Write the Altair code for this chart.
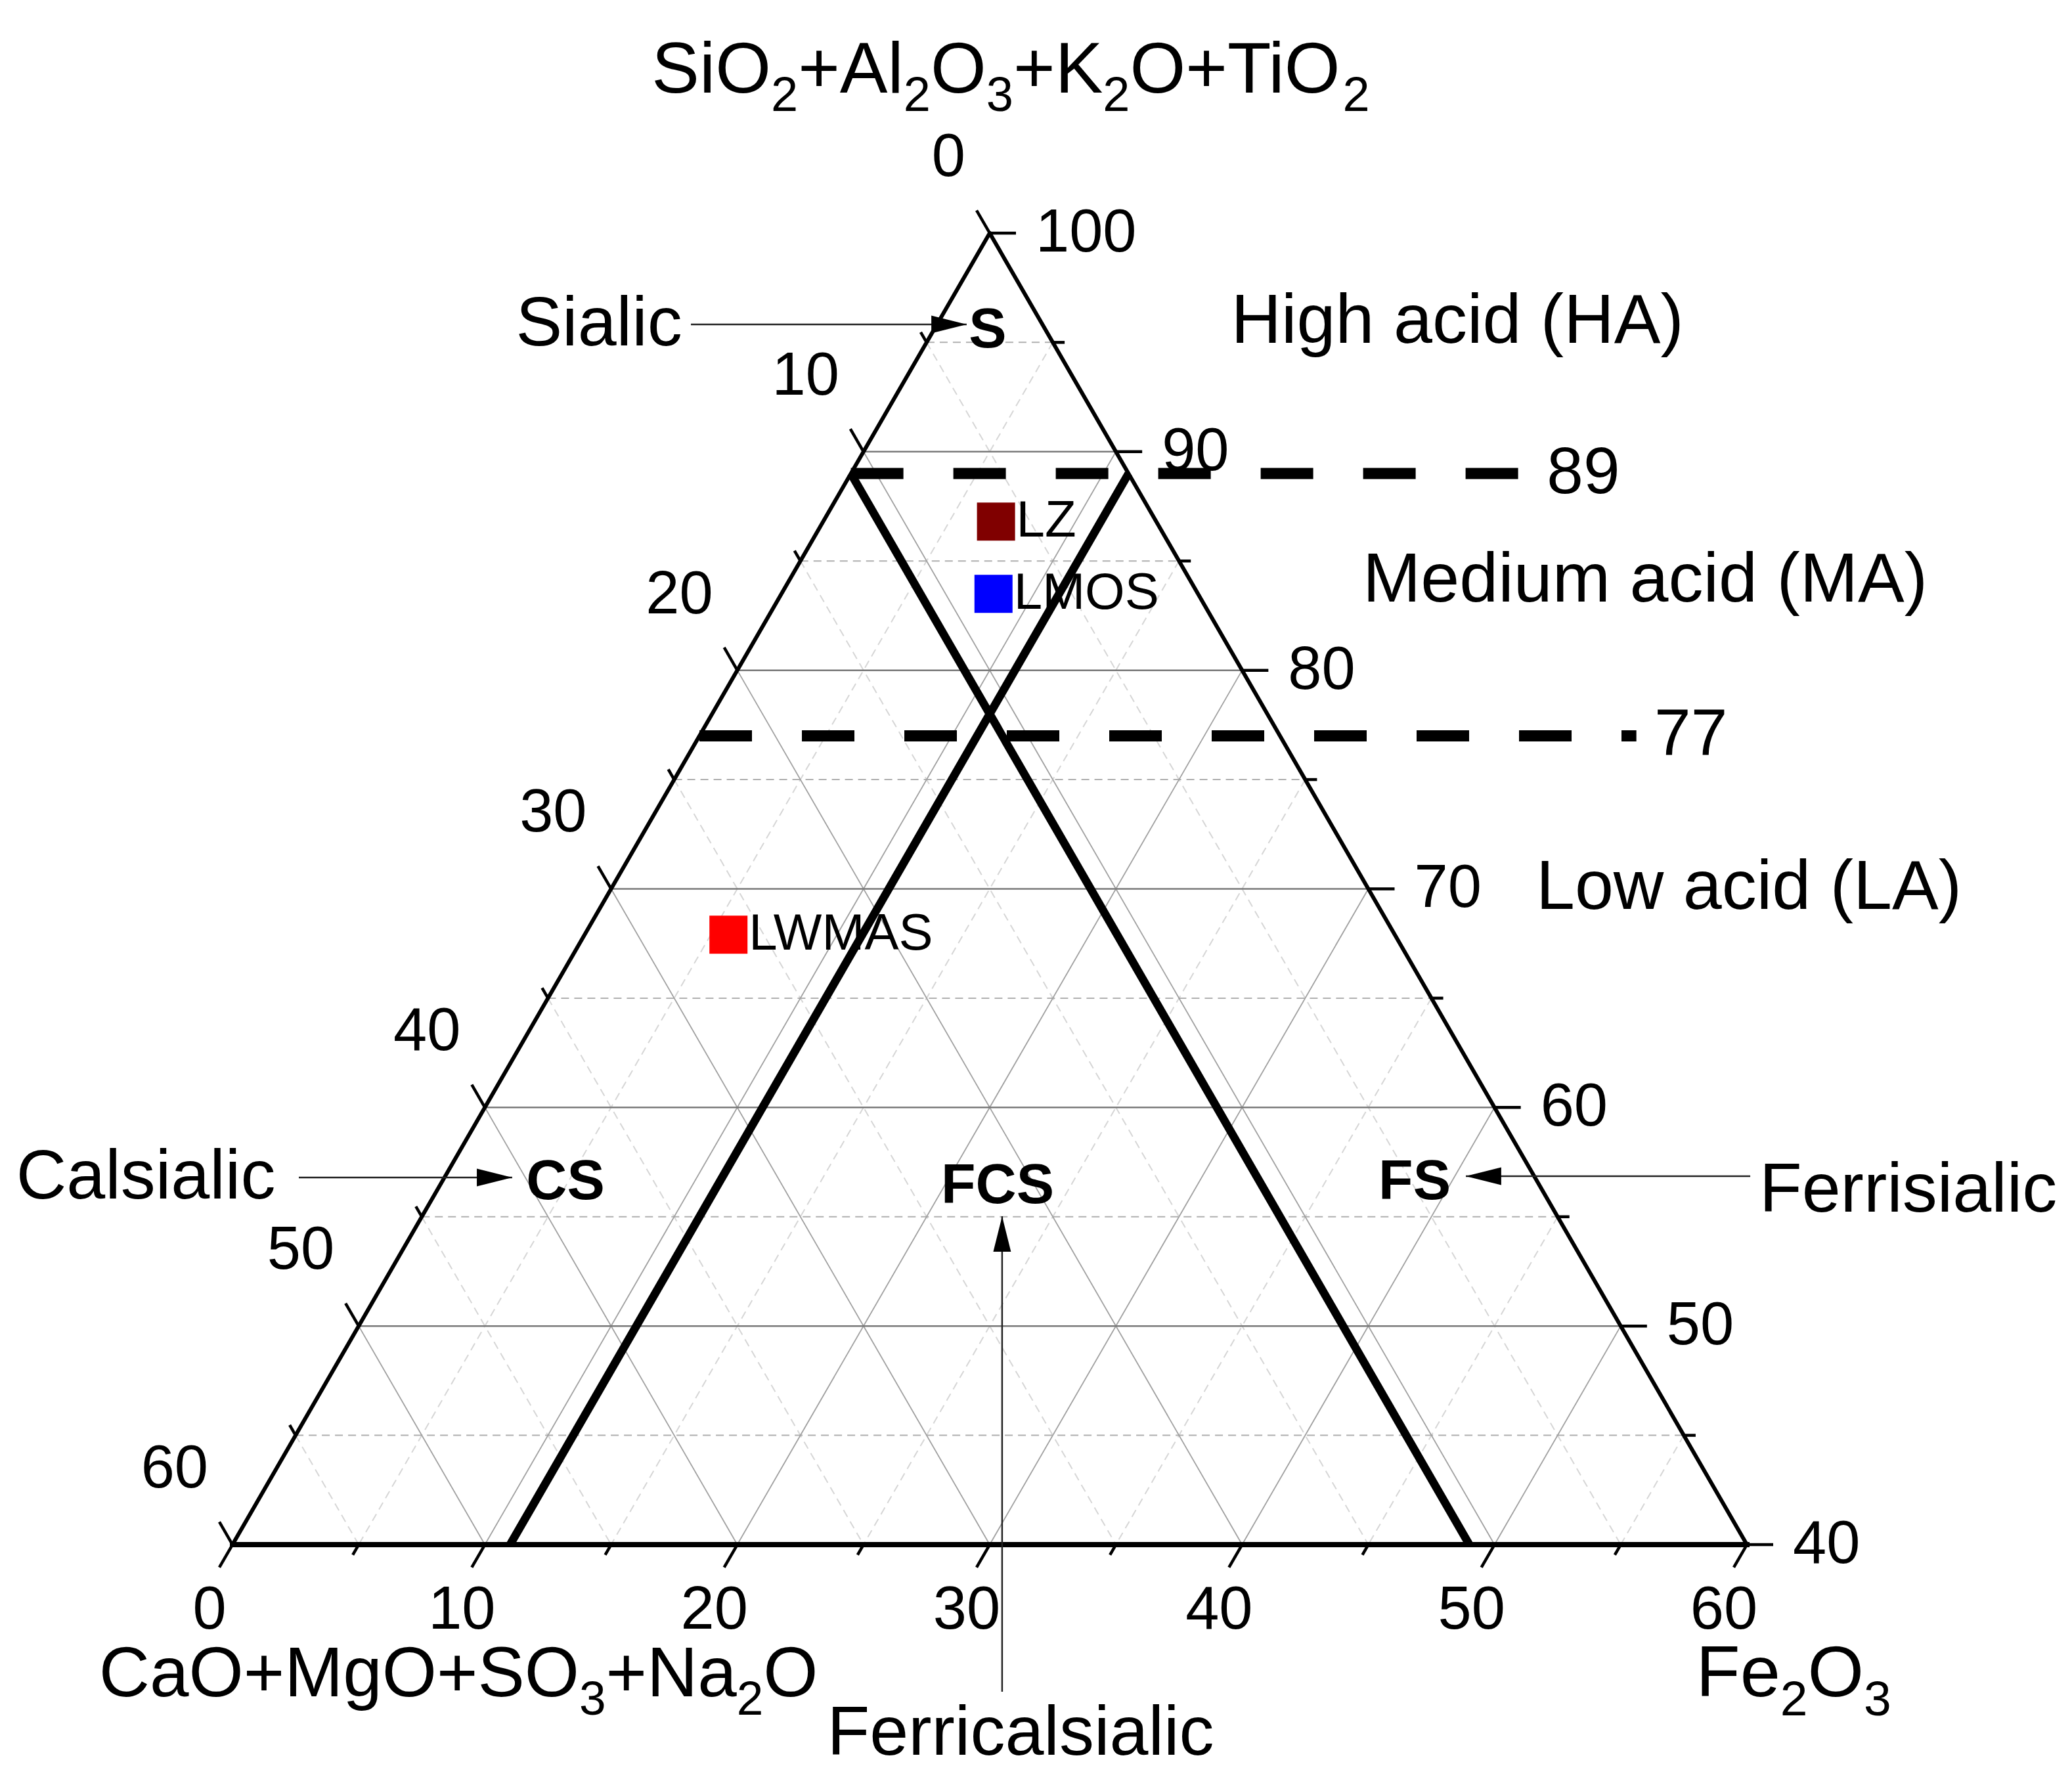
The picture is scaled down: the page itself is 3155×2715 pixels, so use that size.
import math
import altair as alt
import pandas as pd

# ---------------- data ----------------
samples = ["LZ", "LMOS", "LWMAS"]
sio2_pct = [86.8, 83.5, 67.9]     # SiO2+Al2O3+K2O+TiO2
cao_pct = [6.35, 8.1, 26.4]       # CaO+MgO+SO3+Na2O
fe2o3_pct = [6.85, 8.4, 5.7]      # Fe2O3
sample_colors = ["#800000", "#0000FF", "#FF0000"]

sio2_ticks = [40, 45, 50, 55, 60, 65, 70, 75, 80, 85, 90, 95, 100]
cao_ticks = [0, 5, 10, 15, 20, 25, 30, 35, 40, 45, 50, 55, 60]
fe_ticks = [0, 5, 10, 15, 20, 25, 30, 35, 40, 45, 50, 55, 60]
sio2_labels = [40, 50, 60, 70, 80, 90, 100]
cao_labels = [0, 10, 20, 30, 40, 50, 60]
fe_labels = [0, 10, 20, 30, 40, 50, 60]

# classification boundaries
boundary_cao = 11.0
boundary_fe = 11.0
boundary_top_sio2 = 89.0
acid_levels = [89, 77]
acid_labels = ["89", "77"]
acid_line_end_x = [0.849, 0.927]      # where the dashed lines stop (plot units)
acid_label_x = [0.892, 0.963]

region_labels = ["S", "CS", "FCS", "FS"]
region_xy = [(0.4987, 0.8018), (0.2199, 0.2394), (0.5052, 0.2368), (0.7806, 0.2394)]

note_texts = ["Sialic", "High acid (HA)", "Medium acid (MA)", "Low acid (LA)",
              "Calsialic", "Ferricalsialic"]
note_xy = [(0.2420, 0.8057), (0.8088, 0.8075), (0.9328, 0.6366), (1.0013, 0.4337),
           (-0.0572, 0.2424), (0.5204, -0.1249)]
ferri_text = "Ferrisialic"
ferri_xy = (1.0082, 0.2337)

# axis titles as runs of (text, is_subscript)
title_runs = [
    [("SiO", 0), ("2", 1), ("+Al", 0), ("2", 1), ("O", 0), ("3", 1), ("+K", 0), ("2", 1), ("O+TiO", 0), ("2", 1)],
    [("CaO+MgO+SO", 0), ("3", 1), ("+Na", 0), ("2", 1), ("O", 0)],
    [("Fe", 0), ("2", 1), ("O", 0), ("3", 1)],
]
title_center_x = [0.5139, 0.1492, 1.0308]
title_baseline_y = [0.9588, -0.1000, -0.1000]
title_font = [109, 107, 110]

# arrows: tail -> tip (plot units), direction of head
arrows = [((0.3027, 0.8057), (0.4848, 0.8057), "right"),
          ((0.0438, 0.2424), (0.1847, 0.2424), "right"),
          ((0.5082, -0.0971), (0.5082, 0.2168), "up"),
          ((1.0022, 0.2433), (0.8144, 0.2433), "left")]

# ---------------- geometry ----------------
SQ = math.sqrt(3) / 2
SIDE = 2306.0          # pixels per plot unit
W, H = 3130, 2690
OX, OY = 346.0, 2344.0  # view pixel of the bottom-left vertex
FONT = "Liberation Sans, Arial, DejaVu Sans, sans-serif"
SUB = 0.68
ADV = {'S': 0.667, 'i': 0.222, 'O': 0.778, '+': 0.584, 'A': 0.667, 'l': 0.222, 'K': 0.667,
       'T': 0.611, 'C': 0.722, 'a': 0.556, 'M': 0.833, 'g': 0.556, 'N': 0.722, 'F': 0.611,
       'e': 0.556, '2': 0.556, '3': 0.556}


def cart(s, f):
    a = (s - 40.0) / 60.0
    b = f / 60.0
    return b + a / 2.0, a * SQ


def u(px):
    return px / SIDE


XS = alt.Scale(domain=[-OX / SIDE, (W - OX) / SIDE], nice=False, zero=False)
YS = alt.Scale(domain=[(OY - H) / SIDE, OY / SIDE], nice=False, zero=False)


def rules(rows, **mk):
    df = pd.DataFrame(rows, columns=["x1", "y1", "x2", "y2"])
    return alt.Chart(df).mark_rule(**mk).encode(
        x=alt.X("x1:Q", scale=XS, axis=None),
        y=alt.Y("y1:Q", scale=YS, axis=None),
        x2="x2:Q", y2="y2:Q")


def texts(rows, **mk):
    df = pd.DataFrame(rows, columns=["x", "y", "label"])
    base = dict(font=FONT, color="black", baseline="middle")
    base.update(mk)
    return alt.Chart(df).mark_text(**base).encode(
        x=alt.X("x:Q", scale=XS, axis=None),
        y=alt.Y("y:Q", scale=YS, axis=None),
        text="label:N")


layers = []

# ---- grid ----
hmaj, hmin, smaj, smin = [], [], [], []
for s in sio2_ticks[1:-1]:
    x1, y1 = cart(s, 0)
    x2, y2 = cart(s, 100 - s)
    (hmaj if s % 10 == 0 else hmin).append((x1, y1, x2, y2))
for c in cao_ticks[1:-1]:
    x1, y1 = cart(100 - c, 0)
    x2, y2 = cart(40, 60 - c)
    (smaj if c % 10 == 0 else smin).append((x1, y1, x2, y2))
for f in fe_ticks[1:-1]:
    x1, y1 = cart(100 - f, f)
    x2, y2 = cart(40, f)
    (smaj if f % 10 == 0 else smin).append((x1, y1, x2, y2))

layers.append(rules(smin, color="#d6d6d6", strokeWidth=2, strokeDash=[12, 8]))
layers.append(rules(hmin, color="#b0b0b0", strokeWidth=2, strokeDash=[12, 8]))
layers.append(rules(smaj, color="#a0a0a0", strokeWidth=1.8))
layers.append(rules(hmaj, color="#7a7a7a", strokeWidth=2.5))

# ---- FCS boundaries (CaO = 11, Fe2O3 = 11) ----
b1 = cart(boundary_top_sio2, 0) + cart(40, 100 - 40 - boundary_cao)
b2 = cart(boundary_top_sio2, 100 - boundary_top_sio2) + cart(40, boundary_fe)
layers.append(rules([b1, b2], color="black", strokeWidth=12.5))

# ---- acid level dashed lines ----
dash_rows = []
for lev, xe in zip(acid_levels, acid_line_end_x):
    x1, y1 = cart(lev, 0)
    dash_rows.append((x1, y1, xe, y1))
layers.append(rules(dash_rows, color="black", strokeWidth=17, strokeDash=[80, 76]))

# ---- triangle edges ----
BL, TOP, BR = cart(40, 0), cart(100, 0), cart(40, 60)
layers.append(rules([BL + TOP, TOP + BR], color="black", strokeWidth=6, strokeCap="round"))
layers.append(rules([BL + BR], color="black", strokeWidth=8, strokeCap="square"))

# ---- ticks ----
MAJ, MIN = u(40), u(18)
tick_rows = []
for s in sio2_ticks:
    x, y = cart(s, 100 - s)
    L = MAJ if s % 10 == 0 else MIN
    tick_rows.append((x, y, x + L, y))
for c in cao_ticks:
    x, y = cart(100 - c, 0)
    L = MAJ if c % 10 == 0 else MIN
    tick_rows.append((x, y, x - 0.5 * L, y + SQ * L))
for f in fe_ticks:
    x, y = cart(40, f)
    L = MAJ if f % 10 == 0 else MIN
    tick_rows.append((x, y, x - 0.5 * L, y - SQ * L))
layers.append(rules(tick_rows, color="black", strokeWidth=4.5))

# ---- arrows ----
layers.append(rules([t + h for t, h, _ in arrows], color="#222222", strokeWidth=2.5))
head_paths = {"right": "M0,0 L-2,-0.5 L-2,0.5 Z",
              "left": "M0,0 L2,-0.5 L2,0.5 Z",
              "up": "M0,0 L-0.5,2 L0.5,2 Z"}
for t, h, d in arrows:
    dfh = pd.DataFrame({"x": [h[0]], "y": [h[1]]})
    layers.append(alt.Chart(dfh).mark_point(shape=head_paths[d], filled=True, size=2900,
                                            opacity=1, color="black", strokeWidth=0).encode(
        x=alt.X("x:Q", scale=XS, axis=None), y=alt.Y("y:Q", scale=YS, axis=None)))

# ---- samples ----
pts = []
for name, s, c, f in zip(samples, sio2_pct, cao_pct, fe2o3_pct):
    x, y = cart(s, f)
    pts.append({"x": x, "y": y, "sample": name})
dfp = pd.DataFrame(pts)
layers.append(alt.Chart(dfp).mark_point(shape="square", filled=True, size=3364, opacity=1,
                                        strokeWidth=0).encode(
    x=alt.X("x:Q", scale=XS, axis=None), y=alt.Y("y:Q", scale=YS, axis=None),
    color=alt.Color("sample:N", scale=alt.Scale(domain=samples, range=sample_colors), legend=None)))
layers.append(alt.Chart(dfp).mark_text(align="left", baseline="middle", dx=31, fontSize=78,
                                       font=FONT, color="black").encode(
    x=alt.X("x:Q", scale=XS, axis=None), y=alt.Y("y:Q", scale=YS, axis=None), text="sample:N"))

# ---- tick labels ----
layers.append(texts([cart(s, 100 - s) + (str(s),) for s in sio2_labels],
                    align="left", dx=70, fontSize=92))
layers.append(texts([cart(100 - c, 0) + (str(c),) for c in cao_labels],
                    align="right", dx=-37, dy=-115, fontSize=92))
layers.append(texts([cart(40, f) + (str(f),) for f in fe_labels],
                    align="center", dx=-35, dy=100, fontSize=92))

# ---- level labels ----
layers.append(texts([(lx, cart(lev, 0)[1], lab) for lev, lab, lx in zip(acid_levels, acid_labels, acid_label_x)],
                    align="center", fontSize=100))

# ---- annotations ----
layers.append(texts([(x, y, t) for (x, y), t in zip(note_xy, note_texts)],
                    align="center", fontSize=106))
layers.append(texts([(ferri_xy[0], ferri_xy[1], ferri_text)], align="left", fontSize=106))
layers.append(texts([(x, y, t) for (x, y), t in zip(region_xy, region_labels)],
                    align="center", fontSize=86, fontWeight="bold"))

# ---- axis titles with real subscripts ----
for runs, cx, by, F in zip(title_runs, title_center_x, title_baseline_y, title_font):
    widths = [sum(ADV.get(ch, 0.556) for ch in t) * F * (SUB if sub else 1.0) for t, sub in runs]
    start = -sum(widths) / 2.0
    main_rows, sub_rows = [], []
    off = start
    for (t, sub), w in zip(runs, widths):
        (sub_rows if sub else main_rows).append((cx + u(off), by, t))
        off += w
    layers.append(texts(main_rows, align="left", baseline="alphabetic", fontSize=F))
    layers.append(texts(sub_rows, align="left", baseline="alphabetic", fontSize=round(F * SUB),
                        dy=round(0.26 * F)))

chart = alt.layer(*layers).properties(
    width=W, height=H, padding=0,
    autosize=alt.AutoSizeParams(type="none"),
    background="white",
).configure_view(stroke=None)

chart.save("out.html", embed_options={"renderer": "svg", "actions": False})
